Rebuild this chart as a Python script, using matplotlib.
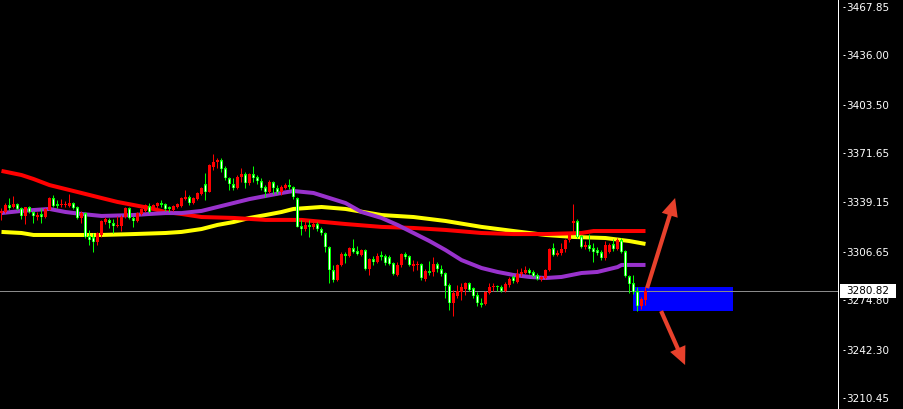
import matplotlib
matplotlib.use("Agg")
import matplotlib.pyplot as plt
from matplotlib.patches import Rectangle

# ---- OHLC data (one bar per index) ----
opens = [3332.2, 3332.9, 3337.5, 3336.2, 3338.2, 3335.5, 3330.3, 3336.2, 3332.9, 3329.6,
         3331.6, 3329.6, 3334.2, 3342.1, 3338.2, 3337.5, 3337.5, 3336.8, 3338.8, 3336.2,
         3329.0, 3332.2, 3317.1, 3316.5, 3313.2, 3317.8, 3326.3, 3327.7, 3325.7, 3323.7,
         3323.7, 3329.6, 3335.5, 3329.0, 3327.0, 3331.6, 3333.6, 3336.8, 3334.9, 3336.8,
         3338.8, 3338.2, 3336.2, 3334.2, 3336.2, 3336.8, 3341.4, 3342.8, 3338.8, 3341.4,
         3344.7, 3351.3, 3346.0, 3362.5, 3365.8, 3367.1, 3361.8, 3355.3, 3351.3, 3348.7,
         3355.9, 3357.9, 3352.0, 3357.9, 3355.9, 3353.3, 3349.3, 3346.0, 3352.6, 3348.7,
         3346.0, 3348.7, 3350.6, 3349.3, 3342.1, 3323.7, 3321.7, 3324.4, 3323.1, 3325.0,
         3321.7, 3319.1, 3309.9, 3294.8, 3288.2, 3298.1, 3305.3, 3304.0, 3309.2, 3307.3,
         3304.6, 3307.9, 3295.4, 3302.0, 3300.0, 3304.6, 3304.0, 3303.3, 3299.4, 3291.5,
         3298.1, 3305.3, 3304.0, 3297.4, 3298.1, 3298.7, 3288.9, 3294.1, 3293.5, 3298.7,
         3295.4, 3292.8, 3284.9, 3273.1, 3277.7, 3280.3, 3282.3, 3286.2, 3282.9, 3278.3,
         3273.1, 3272.4, 3279.7, 3283.6, 3284.3, 3283.6, 3281.0, 3284.9, 3290.2, 3286.9,
         3292.1, 3292.8, 3294.8, 3293.5, 3291.5, 3288.9, 3289.5, 3294.8, 3309.2, 3304.6,
         3306.0, 3308.6, 3314.5, 3325.7, 3327.0, 3317.1, 3309.9, 3311.2, 3309.2, 3307.9,
         3306.6, 3302.7, 3306.6, 3311.9, 3308.6, 3314.5, 3307.3, 3290.8, 3286.2, 3281.0,
         3271.1, 3275.1]

highs = [3335.5, 3338.8, 3342.1, 3343.4, 3338.8, 3336.2, 3336.2, 3336.8, 3333.6, 3332.9,
         3335.5, 3335.5, 3342.8, 3344.1, 3340.8, 3341.4, 3340.1, 3344.7, 3339.5, 3336.8,
         3333.6, 3332.9, 3321.1, 3319.1, 3319.8, 3327.7, 3329.6, 3329.0, 3328.3, 3330.3,
         3330.9, 3336.2, 3336.2, 3330.3, 3332.9, 3335.5, 3338.2, 3338.8, 3338.2, 3339.5,
         3340.8, 3338.8, 3336.8, 3337.5, 3338.8, 3342.8, 3347.4, 3344.1, 3342.8, 3346.0,
         3349.3, 3358.5, 3364.5, 3371.0, 3368.4, 3368.4, 3363.2, 3355.9, 3355.3, 3357.2,
         3361.8, 3359.2, 3358.5, 3363.2, 3357.2, 3355.3, 3350.6, 3353.9, 3353.3, 3350.6,
         3350.6, 3352.0, 3354.6, 3350.0, 3342.8, 3327.7, 3327.7, 3327.7, 3326.3, 3326.3,
         3323.1, 3319.8, 3310.6, 3298.1, 3298.7, 3306.6, 3306.6, 3309.9, 3315.2, 3310.6,
         3308.6, 3308.6, 3302.7, 3304.0, 3306.0, 3307.3, 3305.3, 3304.6, 3300.0, 3300.0,
         3306.0, 3306.6, 3304.6, 3301.3, 3300.7, 3299.4, 3295.4, 3300.7, 3303.3, 3300.0,
         3298.1, 3293.5, 3286.2, 3281.6, 3284.9, 3286.2, 3286.9, 3286.9, 3283.6, 3280.3,
         3276.4, 3281.0, 3286.2, 3286.2, 3284.9, 3284.9, 3286.9, 3290.2, 3291.5, 3295.4,
         3296.1, 3297.4, 3296.1, 3294.8, 3292.8, 3290.8, 3295.4, 3309.2, 3312.5, 3307.9,
         3312.5, 3315.2, 3319.1, 3338.2, 3328.3, 3317.8, 3313.8, 3318.4, 3312.5, 3309.9,
         3307.9, 3313.8, 3312.5, 3315.2, 3315.8, 3315.8, 3307.9, 3291.5, 3291.5, 3283.6,
         3277.0, 3283.6]

lows = [3327.7, 3332.2, 3334.2, 3335.5, 3334.2, 3328.3, 3325.0, 3332.2, 3325.7, 3327.7,
        3325.7, 3329.0, 3334.2, 3336.2, 3335.5, 3336.2, 3336.2, 3336.2, 3334.9, 3328.3,
        3325.7, 3315.8, 3311.2, 3306.6, 3311.2, 3316.5, 3325.0, 3322.4, 3319.1, 3323.1,
        3320.4, 3329.0, 3328.3, 3323.1, 3326.3, 3330.9, 3332.9, 3332.2, 3334.2, 3335.5,
        3336.2, 3333.6, 3332.9, 3333.6, 3335.5, 3336.2, 3340.8, 3337.5, 3338.2, 3340.8,
        3344.1, 3340.8, 3346.0, 3360.5, 3361.8, 3359.2, 3353.9, 3347.4, 3347.4, 3348.0,
        3352.6, 3348.7, 3350.6, 3352.6, 3351.3, 3347.4, 3342.8, 3345.4, 3344.7, 3344.7,
        3344.1, 3348.0, 3348.0, 3341.4, 3323.1, 3317.8, 3320.4, 3316.5, 3321.7, 3320.4,
        3317.8, 3306.6, 3286.2, 3286.9, 3287.5, 3297.4, 3299.4, 3303.3, 3306.0, 3304.6,
        3304.0, 3294.8, 3291.5, 3298.1, 3299.4, 3301.3, 3298.1, 3298.1, 3291.5, 3290.8,
        3296.7, 3302.0, 3297.4, 3294.1, 3294.8, 3288.2, 3287.5, 3291.5, 3290.8, 3293.5,
        3290.8, 3276.4, 3268.5, 3264.6, 3276.4, 3275.1, 3278.3, 3281.0, 3276.4, 3271.1,
        3270.5, 3271.8, 3279.0, 3281.0, 3281.0, 3280.3, 3280.3, 3283.6, 3286.2, 3286.2,
        3290.8, 3292.1, 3292.1, 3290.2, 3288.2, 3287.5, 3288.9, 3294.1, 3304.0, 3304.0,
        3304.6, 3306.6, 3313.2, 3319.8, 3315.8, 3309.2, 3308.6, 3307.3, 3300.0, 3304.6,
        3301.3, 3301.3, 3306.0, 3307.3, 3307.9, 3306.0, 3290.2, 3279.7, 3279.0, 3267.8,
        3269.2, 3271.8]

closes = [3333.6, 3337.5, 3335.5, 3338.2, 3334.9, 3330.3, 3336.2, 3332.9, 3330.3, 3330.9,
          3329.6, 3334.9, 3342.1, 3336.8, 3336.8, 3338.2, 3338.2, 3338.8, 3335.5, 3329.0,
          3332.2, 3316.5, 3314.5, 3313.2, 3319.1, 3327.0, 3328.3, 3325.7, 3323.7, 3324.4,
          3329.6, 3335.5, 3329.0, 3327.0, 3332.2, 3334.9, 3337.5, 3332.9, 3337.5, 3338.8,
          3337.5, 3334.9, 3334.9, 3336.8, 3338.2, 3342.1, 3342.8, 3338.8, 3342.1, 3345.4,
          3348.7, 3346.0, 3363.8, 3365.8, 3367.1, 3361.2, 3355.3, 3351.3, 3348.7, 3355.9,
          3357.9, 3352.0, 3357.9, 3355.3, 3353.3, 3348.7, 3346.0, 3352.6, 3348.7, 3346.0,
          3349.3, 3350.6, 3349.3, 3342.8, 3323.1, 3321.7, 3324.4, 3323.1, 3325.0, 3321.7,
          3319.1, 3309.9, 3294.8, 3288.2, 3298.1, 3305.3, 3304.0, 3309.2, 3306.6, 3305.3,
          3307.9, 3295.4, 3302.0, 3300.0, 3304.0, 3303.3, 3299.4, 3298.7, 3292.1, 3298.1,
          3305.3, 3303.3, 3298.1, 3298.7, 3298.7, 3289.5, 3294.1, 3292.8, 3298.7, 3295.4,
          3292.1, 3284.3, 3273.1, 3279.7, 3281.0, 3283.6, 3286.2, 3281.6, 3277.7, 3273.1,
          3271.8, 3280.3, 3283.6, 3284.3, 3283.6, 3281.0, 3285.6, 3288.9, 3287.5, 3292.1,
          3293.5, 3294.8, 3292.8, 3290.8, 3288.9, 3290.2, 3294.8, 3308.6, 3304.6, 3306.0,
          3308.6, 3314.5, 3317.8, 3327.0, 3316.5, 3309.9, 3311.2, 3308.6, 3306.6, 3306.0,
          3302.7, 3311.2, 3311.2, 3308.6, 3314.5, 3306.6, 3290.8, 3285.6, 3280.3, 3271.1,
          3275.7, 3280.82]

# ---- moving averages (bar index, value) ----
ma_red_idx = [0, 5, 8, 12, 16, 20, 25, 29, 33, 37, 41, 45, 50, 58, 66, 75, 86, 95, 103,
              111, 120, 128, 136, 145, 148, 161]
ma_red = [3359.9, 3357.2, 3354.6, 3350.6, 3348.0, 3345.4, 3342.1, 3339.5, 3337.5, 3335.5,
          3332.9, 3331.6, 3329.6, 3329.0, 3327.7, 3327.7, 3325.0, 3323.1, 3322.4, 3321.1,
          3319.1, 3318.4, 3318.4, 3319.1, 3320.4, 3320.4]

ma_yellow_idx = [0, 5, 8, 16, 25, 33, 41, 45, 50, 54, 58, 62, 66, 70, 73, 80, 86, 95, 103,
                 111, 120, 128, 136, 143, 151, 157, 161]
ma_yellow = [3319.8, 3319.1, 3317.8, 3317.8, 3317.8, 3318.4, 3319.1, 3319.8, 3321.7, 3324.4,
             3326.3, 3329.0, 3330.9, 3332.9, 3334.9, 3336.2, 3334.9, 3330.9, 3329.6, 3327.0,
             3323.1, 3320.4, 3317.8, 3316.5, 3315.8, 3313.8, 3311.9]

ma_purple_idx = [0, 5, 8, 12, 16, 20, 25, 33, 37, 41, 45, 50, 54, 58, 62, 66, 70, 73, 78,
                 82, 86, 90, 95, 99, 103, 107, 111, 115, 120, 124, 128, 132, 136, 140, 145,
                 149, 154, 155, 161]
ma_purple = [3332.2, 3333.6, 3334.2, 3334.9, 3332.9, 3331.6, 3330.3, 3330.9, 3331.6, 3332.2,
             3332.2, 3333.6, 3336.2, 3338.8, 3341.4, 3343.4, 3345.4, 3346.7, 3345.4, 3342.1,
             3338.8, 3332.9, 3329.0, 3324.4, 3319.1, 3313.8, 3307.9, 3301.3, 3296.1, 3293.5,
             3291.5, 3290.2, 3289.5, 3290.2, 3292.8, 3293.5, 3296.7, 3298.1, 3298.1]

# ---- price scale and annotations ----
price_ticks = [3467.85, 3436.00, 3403.50, 3371.65, 3339.15, 3306.65, 3274.80, 3242.30, 3210.45]
last_price = 3280.82
price_min, price_max = 3203.41, 3472.25

zone_start, zone_end = 157.9, 182.9
zone_bottom, zone_top = 3267.8, 3283.6

arrow_up_from, arrow_up_to = (161.4, 3282.9), (168.4, 3342.1)
arrow_down_from, arrow_down_to = (164.9, 3267.8), (170.9, 3232.3)

# ---- styling ----
BULL = "#ff0000"
BEAR = "#00ff00"
ARROW = "#e8412c"
PX = 0.72  # one pixel in points at 100 dpi

W, H = 904, 409
fig = plt.figure(figsize=(W / 100, H / 100), dpi=100, facecolor="black")
axw = 838.5
ax = fig.add_axes([0, 0, axw / W, 1])
ax.set_facecolor("black")
ax.set_xlim(-0.375, -0.375 + axw / 4.0)
ax.set_ylim(price_min, price_max)

for side in ("top", "left", "bottom"):
    ax.spines[side].set_visible(False)
ax.spines["right"].set_color("white")
ax.spines["right"].set_linewidth(PX)

ax.set_xticks([])
ax.yaxis.tick_right()
ax.set_yticks(price_ticks)
ax.set_yticklabels([f"{p:.2f}" for p in price_ticks])
ax.tick_params(axis="y", length=0, pad=5.4, labelsize=7.5, labelcolor="white")
ytr = ax.get_yaxis_transform()
for p in price_ticks:
    ax.plot([843 / axw, 845.5 / axw], [p, p], transform=ytr, color="white",
            lw=PX, clip_on=False, solid_capstyle="butt")

# moving averages
ax.plot(ma_yellow_idx, ma_yellow, color="#ffff00", lw=4 * PX, zorder=2,
        solid_capstyle="butt")
ax.plot(ma_red_idx, ma_red, color="#ff0000", lw=4 * PX, zorder=2.1,
        solid_capstyle="butt")
ax.plot(ma_purple_idx, ma_purple, color="#9932cc", lw=4 * PX, zorder=2.2,
        solid_capstyle="butt")

# zone box and last price line
ax.add_patch(Rectangle((zone_start, zone_bottom), zone_end - zone_start,
                       zone_top - zone_bottom, facecolor="#0000ff", edgecolor="none",
                       zorder=3))
ax.axhline(last_price, color="#8a8a8a", lw=PX, zorder=3.5)

# candles
px_price = (price_max - price_min) / H
for i, (o, h, l, c) in enumerate(zip(opens, highs, lows, closes)):
    up = c > o
    col = BULL if up else BEAR
    lo, hi = min(o, c), max(o, c)
    ax.vlines(i, l, h, color=col, lw=PX, zorder=4)
    ax.bar(i, max(hi - lo, px_price), bottom=lo, width=0.75, color=col,
           linewidth=0, zorder=4.1)
    if not up and hi - lo > 2.5 * px_price:
        ax.vlines(i, lo + px_price, hi - px_price, color="white", lw=PX, zorder=4.2)

# arrows
for a, b in ((arrow_up_from, arrow_up_to), (arrow_down_from, arrow_down_to)):
    ax.annotate("", xy=b, xytext=a, annotation_clip=False, zorder=6,
                arrowprops=dict(arrowstyle="simple,head_length=1.3,head_width=1.2,tail_width=0.3",
                                mutation_scale=10, color=ARROW, lw=0,
                                shrinkA=0, shrinkB=0))

# last price tag on the scale
ax.add_patch(Rectangle((840 / axw, last_price - 7 * px_price), 56 / axw, 14 * px_price,
                       transform=ytr, facecolor="white", edgecolor="none",
                       clip_on=False, zorder=9))
ax.text(846 / axw, last_price, f"{last_price:.2f}", transform=ytr, ha="left",
        va="center", fontsize=7.5, color="black", zorder=10, clip_on=False)

fig.savefig("out.png", dpi=100, facecolor="black")
